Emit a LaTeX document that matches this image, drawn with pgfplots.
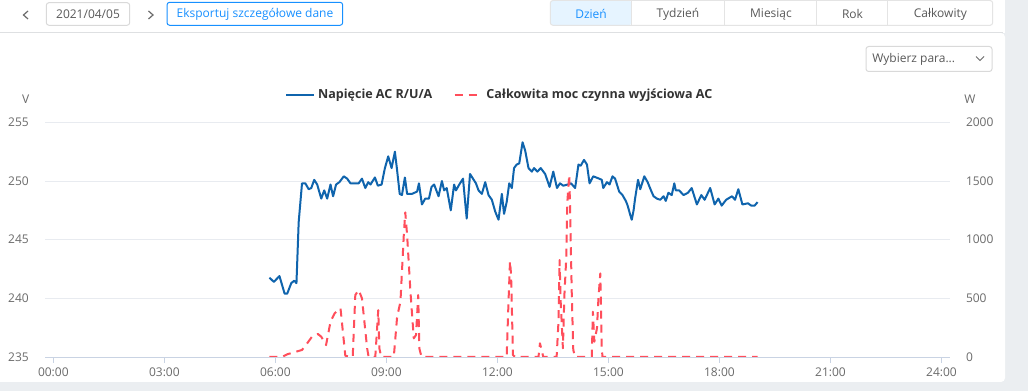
\documentclass[border=0pt]{standalone}
\usepackage{pgfplots}
\pgfplotsset{compat=1.18}
\usepackage{fontspec}
\setmainfont{Open Sans}
\definecolor{vblue}{HTML}{0F64AD}
\definecolor{pred}{HTML}{FF4E5B}
\definecolor{gridc}{HTML}{E8EBF0}
\definecolor{axisc}{HTML}{C9D3E3}
\definecolor{tickc}{HTML}{6B6B6B}
\definecolor{bgray}{HTML}{EBEEF1}
\definecolor{uiblue}{HTML}{1890FF}
\definecolor{uiborder}{HTML}{D9D9D9}
\definecolor{tabfill}{HTML}{E6F4FF}
\definecolor{legc}{HTML}{333333}
\definecolor{uitext}{HTML}{595959}
\newcommand{\uif}{\fontsize{9}{11}\selectfont}
\begin{document}
\begin{tikzpicture}[x=0.75pt,y=-0.75pt]
\useasboundingbox (0,0) rectangle (1028,391);
% background
\fill[bgray] (0,0) rectangle (1028,391);
\fill[white] (0,0) rectangle (1005,33);
\begin{scope}
\clip (0,0) rectangle (1028,391);
\fill[white,rounded corners=3pt] (-10,33) rectangle (1005,382);
\end{scope}
\draw[color=gridc!70!gray!60, line width=0.75pt] (0,33) -- (1003,33);
% top bar
\draw[tickc, line width=0.9pt] (28,11) -- (23.5,15) -- (28,19);
\draw[uiborder, rounded corners=2pt, line width=0.75pt] (46.3,2.7) rectangle (129.7,25.3);
\node[text=uitext, font=\uif] at (88,14.3) {2021/04/05};
\draw[tickc, line width=0.9pt] (148.5,11) -- (153,15) -- (148.5,19);
\draw[uiblue, rounded corners=2pt, line width=0.75pt] (167,2.3) rectangle (342.7,25.3);
\node[text=uiblue, font=\uif] at (255,14) {Eksportuj szczegółowe dane};
% tabs
\fill[tabfill, rounded corners=2pt] (550.3,0.5) rectangle (631.3,25.3);
\draw[uiborder!70, rounded corners=2pt, line width=0.75pt] (550.3,0.5) rectangle (992.7,25.3);
\foreach \sx in {631.3,724.3,816.3,887.3} {\draw[uiborder!70, line width=0.75pt] (\sx,0.5) -- (\sx,25.3);}
\node[text=uiblue, font=\uif] at (591,14) {Dzień};
\node[text=uitext, font=\uif] at (678,14) {Tydzień};
\node[text=uitext, font=\uif] at (771,14) {Miesiąc};
\node[text=uitext, font=\uif] at (852.5,14) {Rok};
\node[text=uitext, font=\uif] at (940.3,14) {Całkowity};
% dropdown
\draw[uiborder, rounded corners=2pt, line width=0.75pt] (866,46.5) rectangle (992,71.5);
\node[text=uitext, font=\uif, anchor=west, inner sep=0pt] at (872,59) {Wybierz para...};
\draw[tickc, line width=0.75pt] (976,56.5) -- (980,60.5) -- (984,56.5);
% unit labels
\node[text=tickc, font=\uif] at (25.7,99) {V};
\node[text=tickc, font=\uif] at (970,99) {W};

\begin{axis}[
  at={(33.75pt,-267.75pt)}, anchor=south west,
  scale only axis, width=678.75pt, height=176pt,
  xmin=-0.225, xmax=24.23, ymin=235, ymax=255,
  axis x line*=bottom, axis y line*=left,
  x axis line style={axisc, line width=0.75pt, -},
  y axis line style={draw=none},
  xtick={0,3,...,24},
  xticklabels={00:00,03:00,06:00,09:00,12:00,15:00,18:00,21:00,24:00},
  ytick={235,240,...,255},
  yticklabels={235,240,245,250,255},
  ymajorgrids, grid style={gridc, line width=0.75pt},
  xtick style={axisc, line width=0.75pt},
  ytick style={draw=none},
  major tick length=4.5pt, tick align=outside,
  tick label style={font=\uif, text=tickc},
  xticklabel style={anchor=center, yshift=-7.3pt},
  yticklabel style={anchor=east, inner sep=0pt, xshift=-7.5pt},
  legend style={at={(0.503,1.116)}, anchor=center, draw=none, fill=none,
    legend columns=2, font=\bfseries\fontsize{9.4}{11}\selectfont, text=legc,
    /tikz/every even column/.append style={column sep=14pt}},
  legend image code/.code={\draw[#1] (0pt,0pt) -- (21pt,0pt);},
]
\addplot[vblue, line width=1.5pt, line join=round] table {
5.84 241.76
5.96 241.4
6.11 241.9
6.25 240.4
6.32 240.4
6.43 241.3
6.51 241.5
6.57 241.3
6.63 246.5
6.72 249.8
6.81 249.8
6.90 249.3
6.97 249.4
7.05 250.1
7.13 249.7
7.24 248.5
7.32 249.2
7.40 248.5
7.49 249.7
7.56 248.7
7.64 249.7
7.73 249.9
7.85 250.4
7.94 250.2
8.03 249.8
8.25 249.8
8.34 250.2
8.43 249.4
8.51 249.9
8.57 249.7
8.69 250.3
8.77 249.6
8.87 249.7
8.96 251.1
9.05 252.1
9.14 251.1
9.23 252.5
9.29 250.9
9.36 248.9
9.42 248.8
9.50 250.3
9.56 248.9
9.69 248.9
9.83 249.1
9.88 249.8
9.96 248.0
10.05 248.5
10.15 248.5
10.22 249.5
10.29 249.7
10.41 248.7
10.50 250.0
10.56 249.2
10.63 249.4
10.74 247.5
10.83 249.7
10.88 249.2
10.97 249.7
11.07 250.2
11.17 246.8
11.26 250.6
11.34 250.2
11.42 249.8
11.49 249.2
11.58 248.9
11.67 249.9
11.76 248.8
11.85 248.4
11.94 247.4
12.03 246.7
12.12 248.9
12.18 247.2
12.25 248.2
12.32 249.8
12.39 249.4
12.45 251.1
12.52 251.4
12.59 251.5
12.68 253.3
12.75 252.6
12.84 251.1
12.93 250.8
12.99 251.1
13.08 250.8
13.17 251.1
13.29 250.6
13.41 249.5
13.51 250.8
13.61 249.4
13.69 249.8
13.78 249.6
13.90 249.7
13.99 249.8
14.10 249.4
14.19 251.4
14.25 251.3
14.34 251.8
14.42 251.4
14.49 249.8
14.59 250.4
14.75 250.2
14.82 250.1
14.86 249.4
14.96 249.9
15.03 249.7
15.11 250.4
15.18 250.2
15.29 249.1
15.38 248.8
15.47 248.3
15.52 247.9
15.59 247.1
15.63 246.7
15.68 247.5
15.72 248.5
15.80 250.1
15.86 249.3
15.97 250.4
16.06 249.9
16.15 249.2
16.22 248.7
16.31 248.5
16.40 248.4
16.49 248.7
16.55 248.3
16.62 249.0
16.71 248.8
16.78 249.8
16.82 249.2
16.91 249.2
17.03 248.8
17.15 249.0
17.25 249.4
17.39 248.0
17.51 248.8
17.60 248.4
17.75 249.4
17.87 248.0
17.97 248.5
18.06 247.9
18.18 248.4
18.34 248.7
18.42 248.4
18.51 249.3
18.62 248.0
18.77 248.1
18.86 247.9
18.95 247.9
19.03 248.2
};
\addlegendentry{Napięcie AC R/U/A}
\addlegendimage{pred, line width=1.5pt, dash pattern=on 6pt off 4.5pt}
\addlegendentry{Całkowita moc czynna wyjściowa AC}
\end{axis}

\begin{axis}[
  at={(33.75pt,-267.75pt)}, anchor=south west,
  scale only axis, width=678.75pt, height=176pt,
  xmin=-0.225, xmax=24.23, ymin=0, ymax=2000,
  axis x line=none, axis y line*=right,
  y axis line style={draw=none},
  ytick={0,500,1000,1500,2000},
  yticklabels={0,500,1000,1500,2000},
  ytick style={draw=none},
  tick label style={font=\uif, text=tickc},
  yticklabel style={anchor=west, inner sep=0pt, xshift=11.8pt},
]
\addplot[pred, line width=1.5pt, dash pattern=on 6pt off 4.5pt, line join=round] table {
5.84 0
6.18 0
6.32 23
6.72 60
6.86 117
6.99 173
7.15 196
7.24 173
7.37 102
7.49 301
7.60 372
7.76 415
7.89 11
8.03 0
8.09 0
8.16 528
8.25 571
8.34 500
8.48 74
8.52 0
8.70 0
8.78 400
8.81 74
8.86 0
9.20 0
9.29 343
9.38 471
9.47 1039
9.51 1233
9.56 1039
9.65 556
9.74 159
9.80 187
9.86 528
9.89 74
9.95 0
12.25 0
12.30 471
12.34 818
12.37 699
12.42 17
12.48 0
13.11 0
13.15 117
13.24 0
13.60 0
13.65 301
13.68 826
13.71 471
13.77 74
13.81 528
13.86 841
13.89 1323
13.94 1551
13.96 1323
14.01 528
14.05 60
14.10 0
14.55 0
14.58 386
14.62 130
14.69 245
14.73 500
14.78 713
14.82 74
14.84 0
19.03 0
};
\end{axis}
\end{tikzpicture}
\end{document}
